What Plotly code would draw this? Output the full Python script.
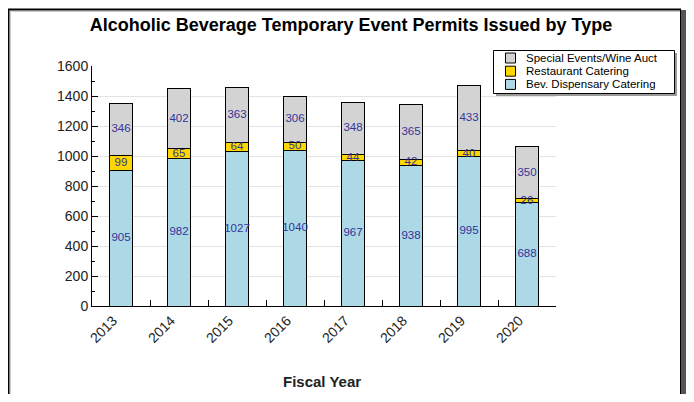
import plotly.graph_objects as go

years = ["2013", "2014", "2015", "2016", "2017", "2018", "2019", "2020"]
bev_dispensary = [905, 982, 1027, 1040, 967, 938, 995, 688]
restaurant = [99, 65, 64, 50, 44, 42, 40, 26]
special_events = [346, 402, 363, 306, 348, 365, 433, 350]

FONT = "Liberation Sans, Arial, sans-serif"
LABEL_COLOR = "#33339a"

# page offset (browser body margin)
OFF = 8
# plot area in window pixels
L, R, T, B = 92, 556, 66, 306
W, H = 694 - OFF, 402 - 2 * OFF


def px(x):
    return (x - L) / (R - L)


def py(y):
    return (B - y) / (B - T)


fig = go.Figure()
series = [
    ("Bev. Dispensary Catering", bev_dispensary, "#add8e6"),
    ("Restaurant Catering", restaurant, "#ffd700"),
    ("Special Events/Wine Auct", special_events, "#d3d3d3"),
]
base = [0] * len(years)
for name, vals, color in series:
    fig.add_trace(go.Bar(
        x=years, y=vals, name=name,
        marker=dict(color=color, line=dict(color="#000000", width=1)),
        width=0.41, showlegend=False, hoverinfo="x+y+name",
    ))
    mids = [b + v / 2 for b, v in zip(base, vals)]
    fig.add_trace(go.Scatter(
        x=years, y=mids, mode="text", text=[str(v) for v in vals],
        textposition="middle center", showlegend=False, hoverinfo="skip",
        textfont=dict(family=FONT, size=11.5, color=LABEL_COLOR),
    ))
    base = [b + v for b, v in zip(base, vals)]

shapes = [
    # outer frame
    dict(type="rect", xref="paper", yref="paper", x0=px(681), x1=px(686), y0=py(394), y1=py(10),
         fillcolor="#555555", line=dict(width=0), layer="above"),
    dict(type="line", xref="paper", yref="paper", x0=px(10.5), x1=px(10.5), y0=py(11), y1=py(394),
         line=dict(color="#c8c8c8", width=1)),
    dict(type="line", xref="paper", yref="paper", x0=px(10), x1=px(680), y0=py(11.5), y1=py(11.5),
         line=dict(color="#c8c8c8", width=1)),
    dict(type="line", xref="paper", yref="paper", x0=px(8.5), x1=px(8.5), y0=py(9), y1=py(394),
         line=dict(color="#000000", width=2)),
    dict(type="line", xref="paper", yref="paper", x0=px(8), x1=px(681), y0=py(9.5), y1=py(9.5),
         line=dict(color="#000000", width=2)),
    dict(type="line", xref="paper", yref="paper", x0=px(680.5), x1=px(680.5), y0=py(9), y1=py(394),
         line=dict(color="#000000", width=1)),
    # legend box with shadow
    dict(type="rect", xref="paper", yref="paper", x0=px(496), x1=px(677), y0=py(96), y1=py(53),
         fillcolor="#9a9a9a", line=dict(width=0)),
    dict(type="rect", xref="paper", yref="paper", x0=px(493.5), x1=px(674.5), y0=py(93.5), y1=py(50.5),
         fillcolor="#ffffff", line=dict(color="#000000", width=1)),
]
annotations = [
    dict(text="<b>Fiscal Year</b>", xref="paper", yref="paper", x=px(322), y=py(381),
         xanchor="center", yanchor="middle", showarrow=False,
         font=dict(family=FONT, size=15, color="#222222")),
]
# legend entries (top to bottom: reversed stacking order)
for i, (name, vals, color) in enumerate(reversed(series)):
    cy = 58 + i * 13.2
    shapes.append(dict(type="rect", xref="paper", yref="paper",
                       x0=px(505.5), x1=px(515.5), y0=py(cy + 5), y1=py(cy - 5),
                       fillcolor=color, line=dict(color="#000000", width=1)))
    annotations.append(dict(text=name, xref="paper", yref="paper", x=px(525), y=py(cy),
                            xanchor="left", yanchor="middle", showarrow=False,
                            height=12, borderpad=0,
                            font=dict(family=FONT, size=11.5, color="#000000")))

fig.update_layout(
    width=W, height=H,
    margin=dict(l=L - OFF, r=(694 - R), t=T - OFF, b=(H - (B - OFF)), pad=0, autoexpand=False),
    paper_bgcolor="#ffffff",
    plot_bgcolor="#ffffff",
    barmode="stack",
    font=dict(family=FONT, size=13, color="#222222"),
    title=dict(text="<b>Alcoholic Beverage Temporary Event Permits Issued by Type</b>",
               x=(351 - OFF) / W, xanchor="center", y=1 - (25 - OFF) / H, yanchor="middle",
               font=dict(family=FONT, size=18, color="#000000")),
    showlegend=False,
    xaxis=dict(
        type="category", range=[-0.5, 7.5],
        showline=True, linecolor="#000000", linewidth=1,
        ticks="inside", tickson="boundaries", ticklen=6, tickcolor="#000000",
        tickangle=-45, tickfont=dict(size=14, color="#222222"),
        ticklabelshift=-8,
        showgrid=False, zeroline=False,
    ),
    yaxis=dict(
        range=[0, 1600], dtick=200,
        showline=True, linecolor="#000000", linewidth=1,
        ticks="inside", ticklen=6, tickcolor="#000000",
        tickfont=dict(size=14, color="#222222"),
        showgrid=True, gridcolor="#e3e3e3", gridwidth=1,
        zeroline=False,
        minor=dict(dtick=100, ticks="inside", ticklen=3, tickcolor="#000000", showgrid=False),
    ),
    shapes=shapes,
    annotations=annotations,
)

fig.write_html("out.html")
